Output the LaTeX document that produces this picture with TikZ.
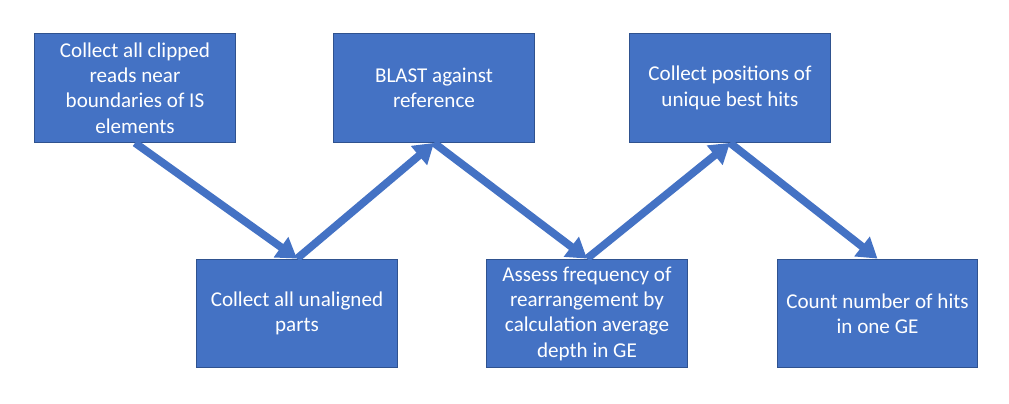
\documentclass[tikz,border=0pt]{standalone}
\usepackage{fontspec}
\setmainfont{Carlito}
\usetikzlibrary{arrows.meta}

\definecolor{stagefill}{HTML}{4472C4}
\definecolor{stageedge}{HTML}{2F528F}

\begin{document}
\begin{tikzpicture}[x=0.025cm, y=-0.025cm,
  stage/.style={draw=stageedge, line width=0.7pt, fill=stagefill, text=white,
    minimum width=5cm, minimum height=2.72cm, inner sep=0pt, align=center,
    font=\fontsize{15}{18}\selectfont},
  flow/.style={-{Triangle[length=14pt, width=17pt]}, line width=5.5pt, color=stagefill}]

\useasboundingbox (0,0) rectangle (1009,403);

% NODES %%%%%%%%%%%%%%%%%%%%%%%%%%%%%%%%%%%%%%%%%%%%%%%%%%%%%%%%%%%%%%%%%%

\node[stage] (S1) at (135,88) {Collect all clipped\\reads near\\boundaries of IS\\elements};
\node[stage] (S2) at (297,313.5) {Collect all unaligned\\parts};
\node[stage] (S3) at (434,88) {BLAST against\\reference};
\node[stage] (S4) at (587,313.5) {Assess frequency of\\rearrangement by\\calculation average\\depth in GE};
\node[stage] (S5) at (730,88) {Collect positions of\\unique best hits};
\node[stage] (S6) at (877.5,313.5) {Count number of hits\\in one GE};

% LINKS %%%%%%%%%%%%%%%%%%%%%%%%%%%%%%%%%%%%%%%%%%%%%%%%%%%%%%%%%%%%%%%%%%

\draw[flow] (S1.south) -- (S2.north);
\draw[flow] (S2.north) -- (S3.south);
\draw[flow] (S3.south) -- (S4.north);
\draw[flow] (S4.north) -- (S5.south);
\draw[flow] (S5.south) -- (S6.north);

\end{tikzpicture}
\end{document}
